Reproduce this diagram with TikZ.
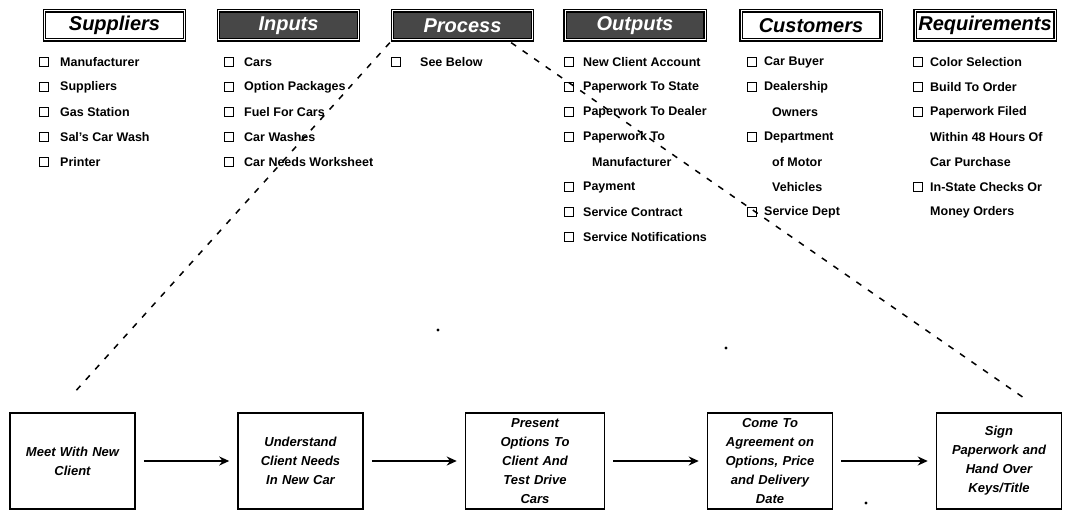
\documentclass[tikz,border=0pt]{standalone}
\usepackage{fontspec}
\setmainfont{Liberation Sans}
\usetikzlibrary{arrows.meta,calc}
\newcommand\citem[5]{\node[chk] (#1c) at (#2,#4) {}; \node[item] (#1) at (#3,#4) {#5};}
\newcommand\contline[4]{\node[item] (#1) at (#2,#3) {#4};}
\begin{document}
\begin{tikzpicture}[x=1pt,y=-1pt,
  hdr/.style={draw, line width=1.3pt, double, double distance=1pt, fill=white,
    minimum width=140pt, minimum height=29pt, inner sep=0pt,
    font=\fontsize{20}{22}\selectfont\bfseries\itshape},
  hdrdark/.style={hdr, fill=black!72, text=white},
  chk/.style={draw, line width=1.6pt, minimum size=9pt, inner sep=0pt},
  item/.style={anchor=west, inner sep=0pt, font=\fontsize{12.5}{14}\selectfont\bfseries},
  stepbox/.style={draw, line width=1.5pt, minimum width=125pt, minimum height=96pt,
    inner sep=0pt, text width=118pt, align=center,
    font=\fontsize{13}{19}\selectfont\bfseries\itshape},
  arr/.style={line width=1.6pt, -{Stealth[length=10pt,width=9pt]}, shorten <=8pt, shorten >=8pt},
  dashline/.style={line width=1.5pt, dash pattern=on 6pt off 8pt}
]
\useasboundingbox (0,0) rectangle (1070,510);
% headers
\node[hdr]     (sup) at (114.5,25.5) {Suppliers};
\node[hdrdark] (inp) at (288.5,25.5) {Inputs};
\node[hdrdark] (pro) at (462.5,25.5) {Process};
\node[hdrdark] (out) at (635,25.5)   {Outputs};
\node[hdr]     (cus) at (811,25.5)   {Customers};
\node[hdr]     (req) at (985,25.5)   {Requirements};
% suppliers
\citem{s1}{44}{60}{62}{Manufacturer}
\citem{s2}{44}{60}{87}{Suppliers}
\citem{s3}{44}{60}{112}{Gas Station}
\citem{s4}{44}{60}{137}{Sal's Car Wash}
\citem{s5}{44}{60}{162}{Printer}
% inputs
\citem{i1}{229}{244}{62}{Cars}
\citem{i2}{229}{244}{87}{Option Packages}
\citem{i3}{229}{244}{112}{Fuel For Cars}
\citem{i4}{229}{244}{137}{Car Washes}
\citem{i5}{229}{244}{162}{Car Needs Worksheet}
% process
\citem{p1}{396}{420}{62}{See Below}
% outputs
\citem{o1}{569}{583}{62}{New Client Account}
\citem{o2}{569}{583}{87}{Paperwork To State}
\citem{o3}{569}{583}{112}{Paperwork To Dealer}
\citem{o4}{569}{583}{137}{Paperwork To}
\contline{o4b}{592}{162}{Manufacturer}
\citem{o5}{569}{583}{187}{Payment}
\citem{o6}{569}{583}{212}{Service Contract}
\citem{o7}{569}{583}{237}{Service Notifications}
% customers
\citem{c1}{752}{764}{62}{Car Buyer}
\citem{c2}{752}{764}{87}{Dealership}
\contline{c2b}{772}{112}{Owners}
\citem{c3}{752}{764}{137}{Department}
\contline{c3b}{772}{162}{of Motor}
\contline{c3c}{772}{187}{Vehicles}
\citem{c4}{752}{764}{212}{Service Dept}
% requirements
\citem{r1}{918}{930}{62}{Color Selection}
\citem{r2}{918}{930}{87}{Build To Order}
\citem{r3}{918}{930}{112}{Paperwork Filed}
\contline{r3b}{930}{137}{Within 48 Hours Of}
\contline{r3c}{930}{162}{Car Purchase}
\citem{r4}{918}{930}{187}{In-State Checks Or}
\contline{r4b}{930}{212}{Money Orders}
% process steps
\node[stepbox] (b1) at (72.5,461) {Meet With New\\Client};
\node[stepbox] (b2) at (300.5,461) {Understand\\Client Needs\\In New Car};
\node[stepbox, minimum width=139pt] (b3) at (535,461) {Present\\Options To\\Client And\\Test Drive\\Cars};
\node[stepbox] (b4) at (770,461) {Come To\\Agreement on\\Options, Price\\and Delivery\\Date};
\node[stepbox] (b5) at (999,461) {Sign\\Paperwork and\\Hand Over\\Keys/Title};
\draw[arr] (b1) -- (b2);
\draw[arr] (b2) -- (b3);
\draw[arr] (b3) -- (b4);
\draw[arr] (b4) -- (b5);
% dashed expansion lines
\coordinate (dl) at (73,394);
\coordinate (dr) at (1024,398);
\draw[dashline] ($(pro.south west)+(-2,2)$) -- (dl);
\draw[dashline] ($(pro.south east)+(-22,2)$) -- (dr);
% stray dots
\fill (438,330) circle (1.6pt);
\fill (726,348) circle (1.6pt);
\fill (866,503) circle (1.6pt);
\end{tikzpicture}
\end{document}
